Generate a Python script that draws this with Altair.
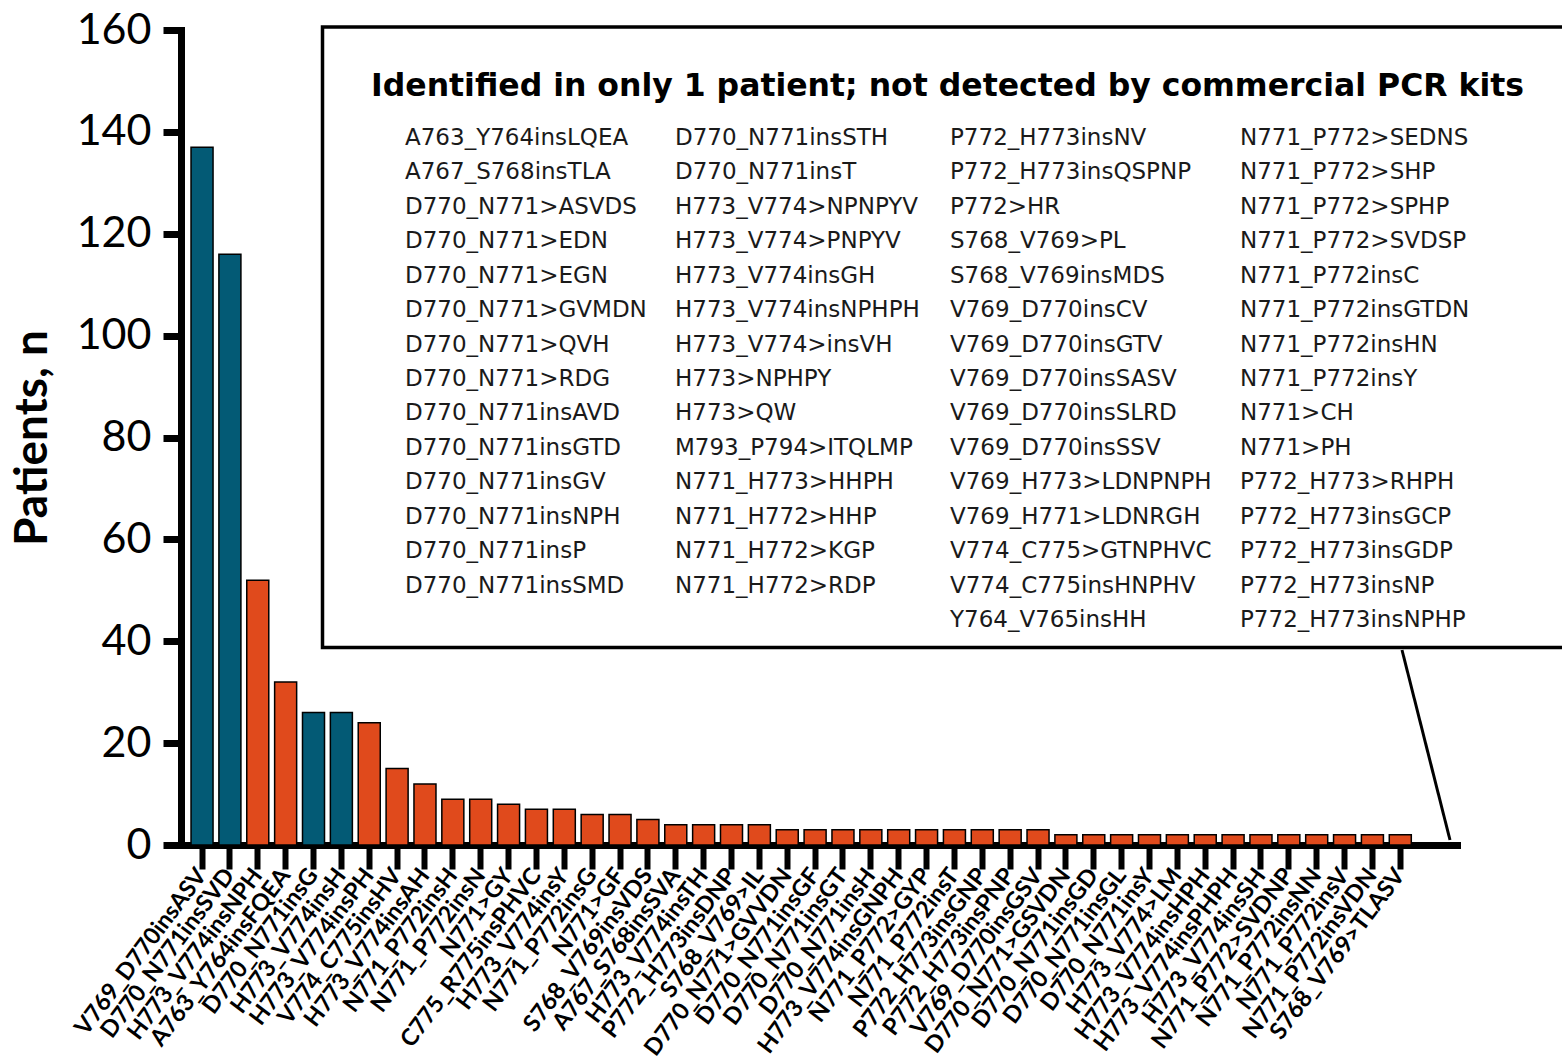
import altair as alt
import pandas as pd

# Insertion variants found in two or more patients, most frequent first
variants = [
    "V769_D770insASV", "D770_N771insSVD", "H773_V774insNPH", "A763_Y764insFQEA",
    "D770_N771insG", "H773_V774insH", "H773_V774insPH", "V774_C775insHV",
    "H773_V774insAH", "N771_P772insH", "N771_P772insN", "N771>GY",
    "C775_R775insPHVC", "H773_V774insY", "N771_P772insG", "N771>GF",
    "S768_V769insVDS", "A767_S768insSVA", "H773_V774insTH", "P772_H773insDNP",
    "S768_V769>IL", "D770_N771>GVVDN", "D770_N771insGF", "D770_N771insGT",
    "D770_N771insH", "H773_V774insGNPH", "N771_P772>GYP", "N771_P772insT",
    "P772_H773insGNP", "P772_H773insPNP", "V769_D770insGSV", "D770_N771>GSVDN",
    "D770_N771insGD", "D770_N771insGL", "D770_N771insY", "H773_V774>LM",
    "H773_V774insHPH", "H773_V774insPHPH", "H773_V774insSH", "N771_P772>SVDNP",
    "N771_P772insNN", "N771_P772insV", "N771_P772insVDN", "S768_V769>TLASV",
]

patients = [
    137, 116, 52, 32, 26, 26, 24, 15, 12, 9, 9, 8,
    7, 7, 6, 6, 5, 4, 4, 4, 4, 3,
    3, 3, 3, 3, 3, 3, 3, 3, 3, 2,
    2, 2, 2, 2, 2, 2, 2, 2, 2, 2, 2, 2,
]

# Whether a commercial PCR kit picks up the variant
pcr_detected = [
    True, True, False, False, True, True, False, False, False, False, False, False,
    False, False, False, False, False, False, False, False, False, False,
    False, False, False, False, False, False, False, False, False, False,
    False, False, False, False, False, False, False, False, False, False, False, False,
]

# Variants seen in a single patient, listed in the inset box (four columns)
single_col1 = [
    "A763_Y764insLQEA", "A767_S768insTLA", "D770_N771>ASVDS", "D770_N771>EDN",
    "D770_N771>EGN", "D770_N771>GVMDN", "D770_N771>QVH", "D770_N771>RDG",
    "D770_N771insAVD", "D770_N771insGTD", "D770_N771insGV", "D770_N771insNPH",
    "D770_N771insP", "D770_N771insSMD",
]
single_col2 = [
    "D770_N771insSTH", "D770_N771insT", "H773_V774>NPNPYV", "H773_V774>PNPYV",
    "H773_V774insGH", "H773_V774insNPHPH", "H773_V774>insVH", "H773>NPHPY",
    "H773>QW", "M793_P794>ITQLMP", "N771_H773>HHPH", "N771_H772>HHP",
    "N771_H772>KGP", "N771_H772>RDP",
]
single_col3 = [
    "P772_H773insNV", "P772_H773insQSPNP", "P772>HR", "S768_V769>PL",
    "S768_V769insMDS", "V769_D770insCV", "V769_D770insGTV", "V769_D770insSASV",
    "V769_D770insSLRD", "V769_D770insSSV", "V769_H773>LDNPNPH", "V769_H771>LDNRGH",
    "V774_C775>GTNPHVC", "V774_C775insHNPHV", "Y764_V765insHH",
]
single_col4 = [
    "N771_P772>SEDNS", "N771_P772>SHP", "N771_P772>SPHP", "N771_P772>SVDSP",
    "N771_P772insC", "N771_P772insGTDN", "N771_P772insHN", "N771_P772insY",
    "N771>CH", "N771>PH", "P772_H773>RHPH", "P772_H773insGCP",
    "P772_H773insGDP", "P772_H773insNP", "P772_H773insNPHP",
]

box_heading = "Identified in only 1 patient; not detected by commercial PCR kits"

DETECTED = "Detected by commercial PCR kits"
NOT_DETECTED = "Not detected by commercial PCR kits"
BLUE = "#035a75"
ORANGE = "#e04a1c"
FONT = "Lato"
INSET_FONT = "DejaVu Sans"

bars_df = pd.DataFrame({
    "variant": variants,
    "patients": patients,
    "kit": [DETECTED if d else NOT_DETECTED for d in pcr_detected],
})

single_rows = []
for col, names in enumerate([single_col1, single_col2, single_col3, single_col4]):
    for row, name in enumerate(names):
        single_rows.append({"col": col, "row": row, "label": name})
single_df = pd.DataFrame(single_rows)

bars = alt.Chart(bars_df).mark_bar(stroke="black", strokeWidth=1.5).encode(
    x=alt.X(
        "variant:N",
        sort=None,
        title=None,
        scale=alt.Scale(paddingInner=0.21, paddingOuter=1, align=0.18),
        axis=alt.Axis(
            labelAngle=-53,
            labelAlign="right",
            labelBaseline="middle",
            labelFont=FONT,
            labelFontSize=23.5,
            labelFontWeight="bold",
            labelColor="black",
            labelPadding=2,
            labelOverlap=False,
            labelLimit=0,
            tickSize=24,
            tickWidth=6,
            tickColor="black",
            domainWidth=7,
            domainColor="black",
            domainCap="square",
        ),
    ),
    y=alt.Y(
        "patients:Q",
        scale=alt.Scale(domain=[0, 160], nice=False),
        axis=alt.Axis(
            values=[0, 20, 40, 60, 80, 100, 120, 140, 160],
            title="Patients, n",
            titleFont=FONT,
            titleFontSize=46,
            titleFontWeight="bold",
            titleColor="black",
            titlePadding=20,
            labelFont=FONT,
            labelFontSize=43,
            labelColor="black",
            labelPadding=12,
            tickSize=18,
            tickWidth=7,
            tickColor="black",
            domainWidth=7,
            domainColor="black",
            domainCap="square",
            grid=False,
        ),
    ),
    color=alt.Color(
        "kit:N",
        scale=alt.Scale(domain=[DETECTED, NOT_DETECTED], range=[BLUE, ORANGE]),
        legend=None,
    ),
)

# Inset frame for the single-patient variants
frame = alt.Chart(pd.DataFrame({"k": [0]})).mark_rect(
    fill="white", stroke="black", strokeWidth=3.5
).encode(
    x=alt.value(141.5), x2=alt.value(1420), y=alt.value(-3), y2=alt.value(617.5)
)

heading = alt.Chart(pd.DataFrame({"t": [box_heading]})).mark_text(
    align="left", baseline="middle", font=INSET_FONT, fontSize=31.5, fontWeight="bold",
    color="black"
).encode(x=alt.value(190), y=alt.value(57), text="t:N")

listing = alt.Chart(single_df).mark_text(
    align="left", baseline="middle", font=INSET_FONT, fontSize=23, color="#1a1a1a"
).encode(
    x=alt.X("col:Q", axis=None,
            scale=alt.Scale(domain=[0, 1, 2, 3], range=[224, 494, 769, 1059])),
    y=alt.Y("row:Q", axis=None, scale=alt.Scale(domain=[0, 14], range=[108, 590])),
    text="label:N",
)

# Leader line from the inset down to the end of the category axis
leader = alt.Chart(pd.DataFrame({"k": [0]})).mark_rule(
    stroke="black", strokeWidth=3
).encode(x=alt.value(1221), x2=alt.value(1269), y=alt.value(620), y2=alt.value(810))

chart = alt.layer(bars, frame, heading, listing, leader).resolve_scale(
    x="independent", y="independent"
).properties(
    width=1276,
    height=815,
    padding={"left": 181, "top": 30, "right": 105, "bottom": 219},
    autosize=alt.AutoSizeParams(type="none"),
    background="white",
).configure_view(stroke=None)

chart.save("out.html", embed_options={"renderer": "svg", "actions": False})
